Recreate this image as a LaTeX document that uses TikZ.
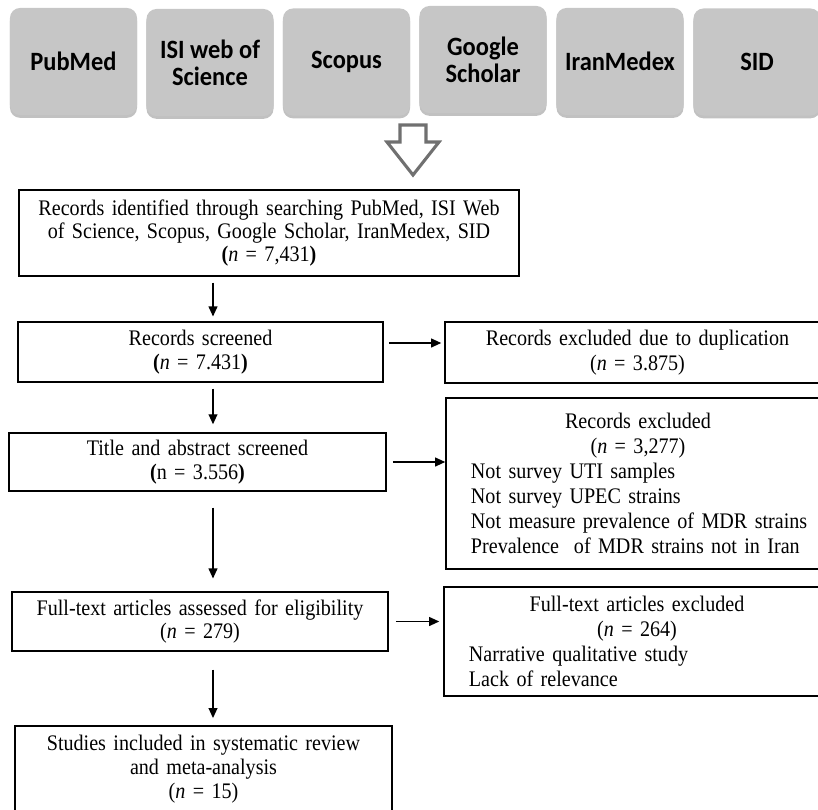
\documentclass[tikz,border=0pt]{standalone}
\usepackage{fontspec}
\setmainfont{Liberation Serif}[FakeStretch=0.905]
\newfontfamily\calib{Carlito}[FakeStretch=0.925]
\usetikzlibrary{arrows.meta,shadows}
\setlength{\parindent}{0pt}
\definecolor{dbgray}{RGB}{198,198,198}
\definecolor{arrgray}{RGB}{112,112,112}

\begin{document}
\begin{tikzpicture}[x=0.025cm,y=-0.025cm]
      \tikzset{
        db/.style={rectangle,rounded corners=0.25cm,fill=dbgray,align=center,
          minimum width=3.175cm,minimum height=2.675cm,
          font=\calib\bfseries\fontsize{18.8}{19.2}\selectfont,
          drop shadow={shadow xshift=0cm,shadow yshift=-0.07cm,opacity=0.35,fill=black!70}},
        flow/.style={rectangle,draw,line width=1pt,inner sep=0pt,align=center,
          font=\fontsize{15.8}{16.6}\selectfont},
        note/.style={rectangle,draw,line width=1pt,inner sep=0pt,text width=8.8cm,
          font=\fontsize{15.8}{17.8}\selectfont},
        hollow/.style={draw=arrgray,fill=white,line width=2.2pt,line join=miter},
        arr/.style={-{Triangle[length=0.25cm,width=0.22cm]},line width=1pt}
      }
      \useasboundingbox (0,0) rectangle (818,810);

      % databases
      \node[db] (pubmed) at (73.5,61.5) {PubMed};
      \node[db] (isi) at (210,62.5) {ISI web of\\Science};
      \node[db] (scopus) at (346.5,62) {Scopus};
      \node[db] (google) at (483,59.5) {Google\\Scholar};
      \node[db] (iranmedex) at (620,61.5) {IranMedex};
      \node[db] (sid) at (757,62) {SID};

      \filldraw[hollow] (400,125) -- (426,125) -- (426,142) -- (439,142)
            -- (413,175) -- (387,142) -- (400,142) -- cycle;

      % left column
      \node[flow,text width=12.4cm,minimum width=12.5cm,minimum height=2.15cm] (ident) at (269,233)
            {Records identified through searching PubMed, ISI Web\\
             of Science, Scopus, Google Scholar, IranMedex, SID\\
             \textbf{(}\textit{n} = 7,431\textbf{)}};
      \node[flow,text width=8.8cm,minimum width=9.125cm,minimum height=1.5cm] (screen) at (200.5,352)
            {Records screened\\ \textbf{(}\textit{n} = 7.431\textbf{)}};
      \node[flow,text width=9cm,minimum width=9.425cm,minimum height=1.45cm] (title) at (197.5,462)
            {Title and abstract screened\\ \textbf{(}n = 3.556\textbf{)}};
      \node[flow,text width=9cm,minimum width=9.4cm,minimum height=1.475cm] (fulltext) at (200,621.5)
            {Full-text articles assessed for eligibility\\ (\textit{n} = 279)};
      \node[flow,text width=9cm,minimum width=9.425cm,minimum height=2.15cm,
            font=\fontsize{15.8}{17}\selectfont] (incl) at (203.5,769)
            {Studies included in systematic review\\ and meta-analysis\\ (\textit{n} = 15)};

      % right column
      \node[flow,text width=9cm,minimum width=9.625cm,minimum height=1.525cm,
            font=\fontsize{15.8}{17.5}\selectfont] (dup) at (637.5,352.5)
            {Records excluded due to duplication\\ (\textit{n} = 3.875)};
      \node[note,minimum width=9.6cm,minimum height=4.275cm] (recex) at (638,483.5)
            {\centering Records excluded\\ (\textit{n} = 3,277)\par
             \raggedright\leftskip=0.225cm Not survey UTI samples\\ Not survey UPEC strains\\
             Not measure prevalence of MDR strains\\ Prevalence \ of MDR strains not in Iran\par};
      \node[note,minimum width=9.65cm,minimum height=2.725cm] (ftex) at (637,641.5)
            {\centering Full-text articles excluded\\ (\textit{n} = 264)\par
             \raggedright\leftskip=0.2cm Narrative qualitative study\\ Lack of relevance\par};

      \coordinate (axis) at (213,0);
      \coordinate (s1) at ([yshift=0.225cm]screen.east);

      \draw[arr,shorten <=0.15cm,shorten >=0.12cm] (ident.south -| axis) -- (screen.north -| axis);
      \draw[arr,shorten <=0.15cm,shorten >=0.2cm] (screen.south -| axis) -- (title.north -| axis);
      \draw[arr,shorten <=0.4cm,shorten >=0.32cm] (title.south -| axis) -- (fulltext.north -| axis);
      \draw[arr,shorten <=0.45cm,shorten >=0.18cm] (fulltext.south -| axis) -- (incl.north -| axis);
      \draw[arr,shorten <=0.125cm,shorten >=0.075cm] (s1) -- (s1 -| dup.west);
      \draw[arr,shorten <=0.15cm] (title.east) -- (title.east -| recex.west);
      \draw[arr,shorten <=0.175cm,shorten >=0.1cm] (fulltext.east) -- (fulltext.east -| ftex.west);
\end{tikzpicture}
\end{document}
